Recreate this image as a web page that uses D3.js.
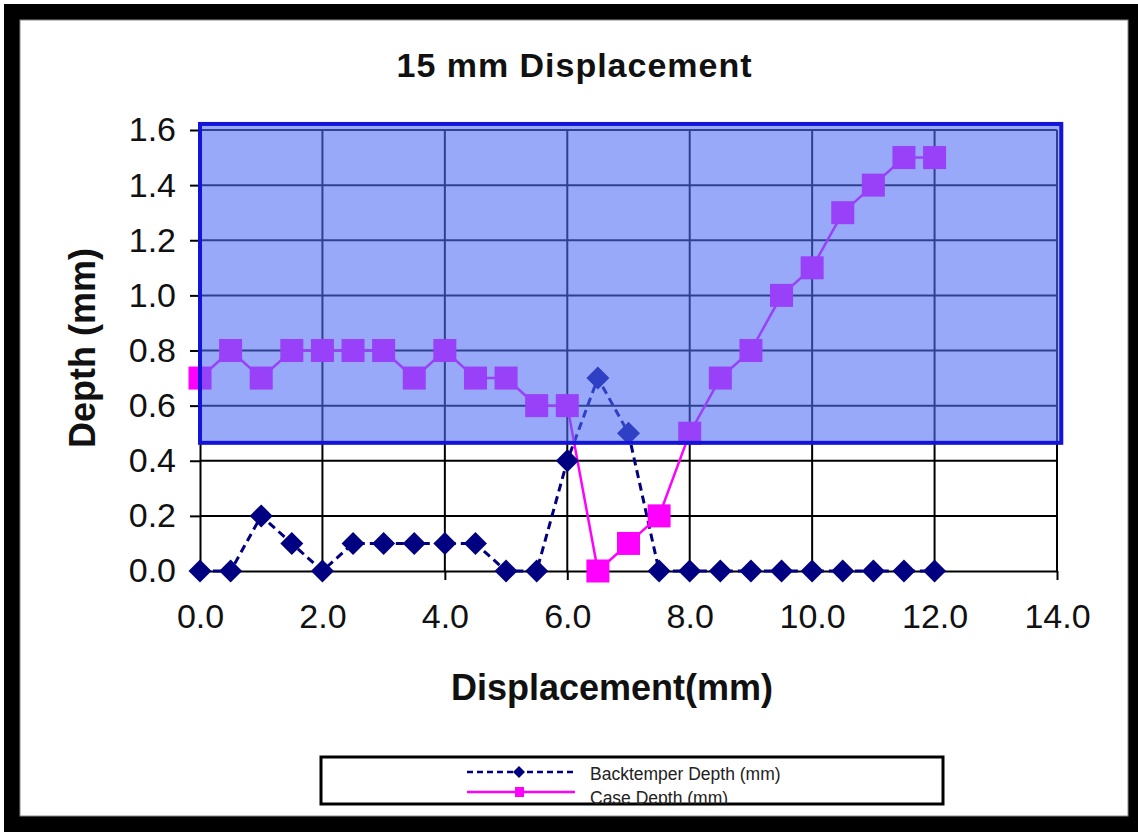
<!DOCTYPE html>
<html>
<head>
<meta charset="utf-8">
<script src="https://cdn.jsdelivr.net/npm/d3@7"></script>
<style>
  html, body { margin: 0; padding: 0; background: #ffffff; }
  svg { display: block; }
  text { font-family: Arial, "Liberation Sans", sans-serif; }
</style>
</head>
<body>
<svg id="chart" width="1138" height="832"></svg>
<script>
// ---- data ----
const displacement = [0,0.5,1,1.5,2,2.5,3,3.5,4,4.5,5,5.5,6,6.5,7,7.5,8,8.5,9,9.5,10,10.5,11,11.5,12];
const backtemperDepth = [0,0,0.2,0.1,0,0.1,0.1,0.1,0.1,0.1,0,0,0.4,0.7,0.5,0,0,0,0,0,0,0,0,0,0];
const caseDepth = [0.7,0.8,0.7,0.8,0.8,0.8,0.8,0.7,0.8,0.7,0.7,0.6,0.6,0.0,0.1,0.2,0.5,0.7,0.8,1.0,1.1,1.3,1.4,1.5,1.5];
const xTicks = [0,2,4,6,8,10,12,14];
const yTicks = [0,0.2,0.4,0.6,0.8,1.0,1.2,1.4,1.6];
const seriesNames = ["Backtemper Depth (mm)", "Case Depth (mm)"];
const highlightX = [0, 14.07];
const highlightY = [0.465, 1.622];
const titleText = "15 mm Displacement";
const xTitle = "Displacement(mm)";
const yTitle = "Depth (mm)";

const svg = d3.select("#chart");

// frame
svg.append("rect").attr("x",4).attr("y",4).attr("width",1134).attr("height",828).attr("fill","#000");
svg.append("rect").attr("x",20).attr("y",20).attr("width",1108).attr("height",796).attr("fill","#fff")
   .attr("stroke","#888").attr("stroke-width",1);

const x = d3.scaleLinear().domain([0,14]).range([200,1057]);
const y = d3.scaleLinear().domain([0,1.6]).range([571,130]);

// gridlines
const grid = svg.append("g");
grid.selectAll("line.h").data(yTicks.filter(d => d > 0)).join("line")
  .attr("x1", x(0)).attr("x2", x(14)).attr("y1", d => y(d)).attr("y2", d => y(d))
  .attr("stroke","#000").attr("stroke-width",2);
grid.selectAll("line.v").data(xTicks.filter(d => d > 0)).join("line")
  .attr("y1", y(0)).attr("y2", y(1.6)).attr("x1", d => x(d)).attr("x2", d => x(d))
  .attr("stroke","#000").attr("stroke-width",2);

// axes
const fmt = d3.format(".1f");
const yAxis = svg.append("g").attr("transform",`translate(${x(0)},0)`)
  .call(d3.axisLeft(y).tickValues(yTicks).tickFormat(fmt).tickSize(10).tickSizeOuter(0).tickPadding(14));
const xAxis = svg.append("g").attr("transform",`translate(0,${y(0)})`)
  .call(d3.axisBottom(x).tickValues(xTicks).tickFormat(fmt).tickSize(9).tickSizeOuter(0).tickPadding(24));
[yAxis, xAxis].forEach(a => {
  a.select(".domain").attr("stroke","#000").attr("stroke-width",2);
  a.selectAll(".tick line").attr("stroke","#000").attr("stroke-width",2);
  a.selectAll(".tick text").attr("fill","#111").style("font-size","34px")
   .style("font-family","Arial, 'Liberation Sans', sans-serif");
});

// series
const lineGen = d3.line().x(d => x(d[0])).y(d => y(d[1]));
const bt = displacement.map((d,i) => [d, backtemperDepth[i]]);
const cd = displacement.map((d,i) => [d, caseDepth[i]]);

svg.append("path").datum(bt).attr("d", lineGen).attr("fill","none")
  .attr("stroke","#000080").attr("stroke-width",3).attr("stroke-dasharray","8,5");
svg.append("path").datum(cd).attr("d", lineGen).attr("fill","none")
  .attr("stroke","#ff00ff").attr("stroke-width",2.5);

const diamond = d3.symbol().type(d3.symbolDiamond2 || d3.symbolSquare2).size(0);
const dSize = 11.5;
svg.append("g").selectAll("path").data(bt).join("path")
  .attr("d", d => `M${x(d[0])},${y(d[1])-dSize}L${x(d[0])+dSize},${y(d[1])}L${x(d[0])},${y(d[1])+dSize}L${x(d[0])-dSize},${y(d[1])}Z`)
  .attr("fill","#000080");
const sq = 23;
svg.append("g").selectAll("rect").data(cd).join("rect")
  .attr("x", d => x(d[0]) - sq/2).attr("y", d => y(d[1]) - sq/2)
  .attr("width", sq).attr("height", sq).attr("fill","#ff00ff");

// translucent highlight band on top
svg.append("rect")
  .attr("x", x(highlightX[0])).attr("y", y(highlightY[1]))
  .attr("width", x(highlightX[1]) - x(highlightX[0]))
  .attr("height", y(highlightY[0]) - y(highlightY[1]))
  .attr("fill","rgb(81,108,244)").attr("fill-opacity",0.59)
  .attr("stroke","#1414d8").attr("stroke-width",4);

// titles
svg.append("text").attr("x",574).attr("y",77).attr("text-anchor","middle")
  .style("font-size","34px").style("font-weight","bold").attr("fill","#111")
  .attr("textLength",355).attr("lengthAdjust","spacing").text(titleText);
svg.append("text").attr("x",612).attr("y",700).attr("text-anchor","middle")
  .style("font-size","36px").style("font-weight","bold").attr("fill","#111").text(xTitle);
svg.append("text").attr("transform","translate(95,348) rotate(-90)").attr("text-anchor","middle")
  .style("font-size","36px").style("font-weight","bold").attr("fill","#111").text(yTitle);

// legend
const lg = svg.append("g");
const box = {x0:321, y0:757, x1:943, y1:804};
svg.append("clipPath").attr("id","lgclip").append("rect")
  .attr("x",box.x0).attr("y",box.y0).attr("width",box.x1-box.x0).attr("height",box.y1-box.y0);
lg.append("rect").attr("x",box.x0).attr("y",box.y0).attr("width",box.x1-box.x0).attr("height",box.y1-box.y0)
  .attr("fill","#fff").attr("stroke","#000").attr("stroke-width",3);
const lgi = lg.append("g").attr("clip-path","url(#lgclip)");
lgi.append("line").attr("x1",467).attr("x2",575).attr("y1",772).attr("y2",772)
  .attr("stroke","#000080").attr("stroke-width",2.5).attr("stroke-dasharray","6,4");
lgi.append("path").attr("d","M519,766L525,772L519,778L513,772Z").attr("fill","#000080");
lgi.append("line").attr("x1",467).attr("x2",575).attr("y1",792).attr("y2",792)
  .attr("stroke","#ff00ff").attr("stroke-width",2.5);
lgi.append("rect").attr("x",515).attr("y",787).attr("width",9).attr("height",10).attr("fill","#ff00ff");
lgi.selectAll("text").data(seriesNames).join("text")
  .attr("x",590).attr("y",(d,i) => 780 + i*24)
  .style("font-size","17.5px").attr("fill","#222").text(d => d);
</script>
</body>
</html>
